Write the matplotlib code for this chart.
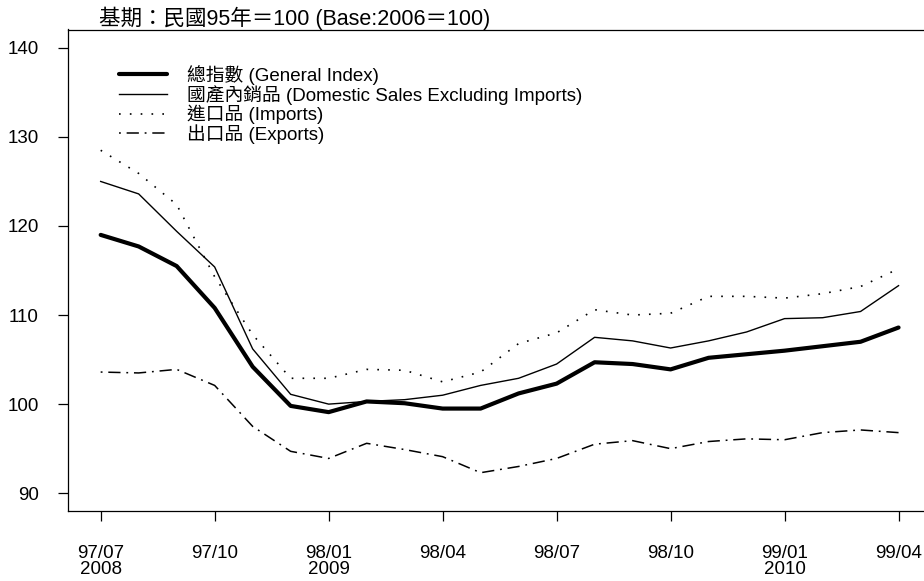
import matplotlib
matplotlib.use("Agg")
import matplotlib.pyplot as plt
import numpy as np

plt.rcParams['font.family'] = ['Liberation Sans', 'Noto Sans CJK TC', 'DejaVu Sans']
plt.rcParams['font.size'] = 13.5

# monthly, 97/07 (2008) .. 99/04 (2010)
general = [119.0, 117.7, 115.5, 110.8, 104.2, 99.8, 99.1, 100.3, 100.1, 99.5, 99.5,
           101.2, 102.3, 104.7, 104.5, 103.9, 105.2, 105.6, 106.0, 106.5, 107.0, 108.6]
domestic = [125.0, 123.6, 119.4, 115.4, 106.2, 101.1, 100.0, 100.3, 100.5, 101.0, 102.1,
            102.9, 104.5, 107.5, 107.1, 106.3, 107.1, 108.1, 109.6, 109.7, 110.4, 113.3]
imports = [128.5, 125.9, 122.4, 114.3, 107.8, 102.9, 102.9, 103.9, 103.8, 102.5, 103.6,
           106.8, 108.0, 110.6, 110.0, 110.2, 112.1, 112.1, 111.9, 112.4, 113.2, 115.2]
exports = [103.6, 103.5, 103.9, 102.1, 97.5, 94.7, 93.9, 95.6, 94.9, 94.1, 92.3,
           93.0, 93.9, 95.5, 95.9, 95.0, 95.8, 96.1, 96.0, 96.8, 97.1, 96.8]

tick_pos = [0, 3, 6, 9, 12, 15, 18, 21]
tick_labels = ['97/07\n2008', '97/10', '98/01\n2009', '98/04', '98/07', '98/10', '99/01\n2010', '99/04']
y_ticks = [90, 100, 110, 120, 130, 140]

names = ['總指數 (General Index)',
         '國產內銷品 (Domestic Sales Excluding Imports)',
         '進口品 (Imports)',
         '出口品 (Exports)']

x = np.arange(len(general))

fig = plt.figure(figsize=(9.24, 5.81), dpi=100)
ax = fig.add_axes([68 / 924, 70 / 581, 856 / 924, 481.5 / 581])

ax.plot(x, general, color='black', lw=3.0, solid_capstyle='round', label=names[0])
ax.plot(x, domestic, color='black', lw=1.0, label=names[1])
ax.plot(x, imports, color='black', lw=1.2, linestyle=(0, (1, 5.5)), label=names[2])
ax.plot(x, exports, color='black', lw=1.1, linestyle=(0, (1.2, 3.8, 8, 3.8)), label=names[3])

ax.set_xlim(-0.86, 21.67)
ax.set_ylim(88.0, 142.06)
ax.set_xticks(tick_pos)
ax.set_xticklabels(tick_labels, linespacing=0.95)
ax.set_yticks(y_ticks)

ax.spines['right'].set_visible(False)
for s in ['left', 'top', 'bottom']:
    ax.spines[s].set_linewidth(0.9)
ax.tick_params(axis='y', direction='out', length=7.2, width=0.9, pad=14)
ax.tick_params(axis='x', direction='out', length=7.2, width=0.9, pad=17)

leg = ax.legend(loc='upper left', bbox_to_anchor=(119 / 924, 1 - 65 / 581),
                bbox_transform=fig.transFigure, frameon=False, borderpad=0,
                borderaxespad=0, handlelength=2.55, handletextpad=1.1,
                labelspacing=0.0)

fig.text(99 / 924, 1 - 18 / 581, '基期：民國95年＝100 (Base:2006＝100)',
         ha='left', va='center', fontsize=15.5)

fig.savefig('out.png', dpi=100)
